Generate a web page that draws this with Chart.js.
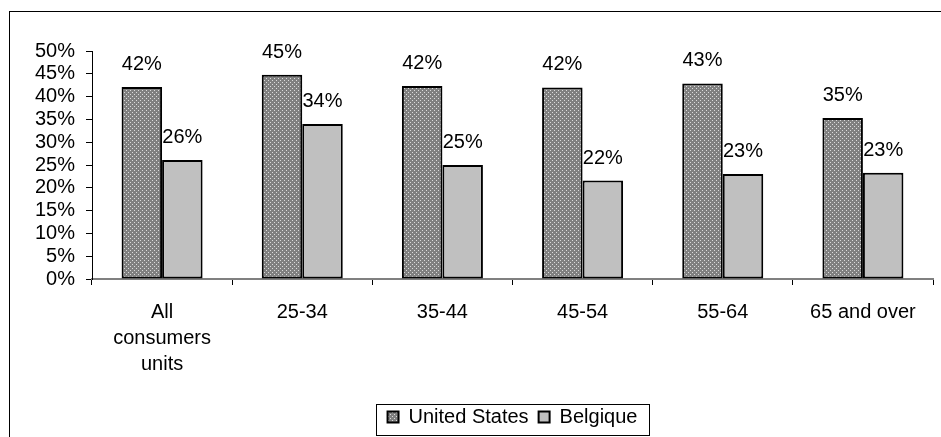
<!DOCTYPE html>
<html>
<head>
<meta charset="utf-8">
<script src="https://cdn.jsdelivr.net/npm/chart.js@4/dist/chart.umd.min.js"></script>
<style>
  html, body { margin: 0; padding: 0; background: #ffffff; }
  canvas { display: block; }
</style>
</head>
<body>
<canvas id="chart" width="941" height="437"></canvas>
<script>
// Age groups along the x axis (multi-line labels as arrays)
const categories = [
  ['All', 'consumers', 'units'],
  '25-34',
  '35-44',
  '45-54',
  '55-64',
  '65 and over'
];

// Share (%) per age group
const unitedStates = [42.1, 44.8, 42.3, 42.0, 42.9, 35.3];
const belgique     = [26.1, 34.0, 25.0, 21.6, 23.0, 23.3];

const seriesNames = ['United States', 'Belgique'];
const yTicksMax = 50;
const yTicksStep = 5;

const FONT = "'Liberation Sans', Arial, sans-serif";
const FONT_SIZE = 20;
const LEGEND_BOX_W = 11;
const LEGEND_PAD = 10;

// Dotted grey fill for the first series
function makeDotPattern() {
  const c = document.createElement('canvas');
  c.width = 4; c.height = 4;
  const g = c.getContext('2d');
  g.fillStyle = '#808080';
  g.fillRect(0, 0, 4, 4);
  g.fillStyle = '#dcdcdc';
  g.fillRect(0, 0, 1, 1);
  g.fillRect(2, 2, 1, 1);
  return g.createPattern(c, 'repeat');
}

// Frame around the whole drawing
const framePlugin = {
  id: 'frame',
  beforeDraw(chart) {
    const ctx = chart.ctx;
    ctx.save();
    ctx.fillStyle = '#ffffff';
    ctx.fillRect(0, 0, chart.width, chart.height);
    ctx.strokeStyle = '#000000';
    ctx.lineWidth = 1;
    ctx.strokeRect(9.5, 11.5, chart.width + 20, chart.height + 20);
    ctx.restore();
  }
};

// Centre the legend under the plot area rather than the whole canvas
const legendCentre = {
  id: 'legendCentre',
  afterLayout(chart) {
    const lg = chart.legend;
    if (!lg) return;
    const area = chart.chartArea;
    const dx = (area.left + area.right) / 2 - (lg.left + lg.right) / 2;
    lg.left += dx;
    lg.right += dx;
  }
};

// Percent labels above each bar
const valueLabels = {
  id: 'valueLabels',
  afterDatasetsDraw(chart) {
    const ctx = chart.ctx;
    ctx.save();
    ctx.font = FONT_SIZE + 'px ' + FONT;
    ctx.fillStyle = '#000000';
    ctx.textAlign = 'center';
    ctx.textBaseline = 'alphabetic';
    chart.data.datasets.forEach((ds, di) => {
      chart.getDatasetMeta(di).data.forEach((bar, i) => {
        ctx.fillText(Math.round(ds.data[i]) + '%', bar.x, bar.y - 17);
      });
    });
    ctx.restore();
  }
};

// Box drawn around the legend entries
const legendBox = {
  id: 'legendBox',
  afterDraw(chart) {
    const lg = chart.legend;
    if (!lg) return;
    const ctx = chart.ctx;
    ctx.save();
    ctx.font = FONT_SIZE + 'px ' + FONT;
    let itemsW = 0;
    chart.data.datasets.forEach((ds, i) => {
      itemsW += LEGEND_BOX_W + FONT_SIZE / 2 + ctx.measureText(ds.label).width;
      if (i > 0) itemsW += LEGEND_PAD;
    });
    const cx = (lg.left + lg.right) / 2;
    const left = Math.round(cx - itemsW / 2 - 12) + 0.5;
    const right = Math.round(cx + itemsW / 2 + 12) + 0.5;
    const cy = lg.top + LEGEND_PAD + FONT_SIZE * 1.2 / 2;
    const top = Math.round(cy - 15) + 0.5;
    const bottom = Math.round(cy + 16) + 0.5;
    ctx.strokeStyle = '#000000';
    ctx.lineWidth = 1;
    ctx.strokeRect(left, top, right - left, bottom - top);
    ctx.restore();
  }
};

new Chart(document.getElementById('chart'), {
  type: 'bar',
  data: {
    labels: categories,
    datasets: [
      {
        label: seriesNames[0],
        data: unitedStates,
        backgroundColor: makeDotPattern(),
        borderColor: '#000000',
        borderWidth: 2,
        borderSkipped: false
      },
      {
        label: seriesNames[1],
        data: belgique,
        backgroundColor: '#c0c0c0',
        borderColor: '#000000',
        borderWidth: 2,
        borderSkipped: false
      }
    ]
  },
  options: {
    responsive: false,
    devicePixelRatio: 1,
    animation: false,
    layout: { padding: { top: 51, left: 0, right: 8, bottom: 0 } },
    datasets: {
      bar: { categoryPercentage: 0.578, barPercentage: 1.0 }
    },
    scales: {
      x: {
        offset: true,
        border: { display: true, color: '#808080', width: 2 },
        grid: {
          display: true,
          drawOnChartArea: false,
          drawTicks: true,
          tickLength: 6,
          tickColor: '#000000',
          offset: true
        },
        ticks: {
          color: '#000000',
          font: { family: FONT, size: FONT_SIZE, lineHeight: 1.3 },
          padding: 14,
          maxRotation: 0,
          autoSkip: false
        },
        afterFit(scale) { scale.height = 118; }
      },
      y: {
        min: 0,
        max: yTicksMax,
        border: { display: true, color: '#000000', width: 1 },
        grid: {
          display: true,
          drawOnChartArea: false,
          drawTicks: true,
          tickLength: 6,
          tickColor: '#000000'
        },
        ticks: {
          stepSize: yTicksStep,
          autoSkip: false,
          color: '#000000',
          font: { family: FONT, size: FONT_SIZE, lineHeight: 1.0 },
          padding: 11,
          callback: (v) => v + '%'
        },
        afterFit(scale) { scale.width = 92; }
      }
    },
    plugins: {
      title: { display: false },
      tooltip: { enabled: false },
      legend: {
        display: true,
        position: 'bottom',
        labels: {
          color: '#000000',
          font: { family: FONT, size: FONT_SIZE },
          boxWidth: LEGEND_BOX_W,
          boxHeight: 11,
          padding: LEGEND_PAD
        }
      }
    }
  },
  plugins: [framePlugin, legendCentre, valueLabels, legendBox]
});
</script>
</body>
</html>
